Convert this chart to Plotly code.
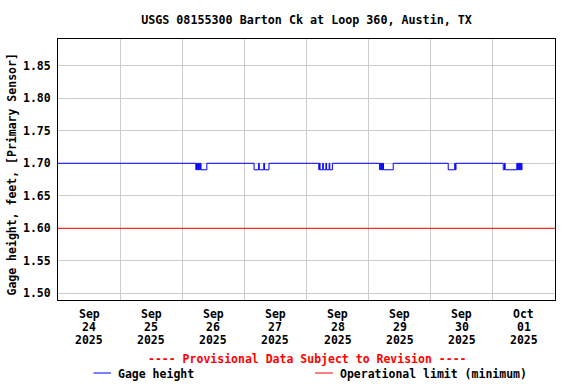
import plotly.graph_objects as go

title_text = "USGS 08155300 Barton Ck at Loop 360, Austin, TX"
y_title = "Gage height, feet, [Primary Sensor]"
provisional_text = "---- Provisional Data Subject to Revision ----"
legend_names = ["Gage height", "Operational limit (minimum)"]

# x tick labels (centred at noon of each day)
tick_days = ["2025-09-24", "2025-09-25", "2025-09-26", "2025-09-27",
             "2025-09-28", "2025-09-29", "2025-09-30", "2025-10-01"]
tick_months = ["Sep", "Sep", "Sep", "Sep", "Sep", "Sep", "Sep", "Oct"]
tick_daynums = ["24", "25", "26", "27", "28", "29", "30", "01"]
tick_years = ["2025"] * 8

# Gage height step changes (15-minute data, value changes only)
gage_times = [
    "2025-09-24 00:00",
    "2025-09-26 05:15", "2025-09-26 05:30", "2025-09-26 05:45", "2025-09-26 06:00",
    "2025-09-26 06:15", "2025-09-26 06:30", "2025-09-26 06:45", "2025-09-26 07:00",
    "2025-09-26 07:15", "2025-09-26 09:30",
    "2025-09-27 03:45", "2025-09-27 05:30", "2025-09-27 05:45", "2025-09-27 07:30",
    "2025-09-27 07:45", "2025-09-27 09:30",
    "2025-09-28 04:45", "2025-09-28 05:00", "2025-09-28 05:15", "2025-09-28 06:15",
    "2025-09-28 06:30", "2025-09-28 07:30", "2025-09-28 07:45", "2025-09-28 08:45",
    "2025-09-28 09:00", "2025-09-28 10:00",
    "2025-09-29 04:15", "2025-09-29 04:30", "2025-09-29 04:45", "2025-09-29 05:00",
    "2025-09-29 05:15", "2025-09-29 05:30", "2025-09-29 05:45", "2025-09-29 09:30",
    "2025-09-30 06:45", "2025-09-30 09:15", "2025-09-30 09:30", "2025-09-30 09:45",
    "2025-10-01 04:00", "2025-10-01 04:30", "2025-10-01 04:45", "2025-10-01 09:15",
    "2025-10-01 09:30", "2025-10-01 09:45", "2025-10-01 10:00", "2025-10-01 10:15",
    "2025-10-01 10:30", "2025-10-01 10:45", "2025-10-01 11:00", "2025-10-01 11:15",
]
gage_values = [
    1.70,
    1.69, 1.70, 1.69, 1.70,
    1.69, 1.70, 1.69, 1.70,
    1.69, 1.70,
    1.69, 1.70, 1.69, 1.70,
    1.69, 1.70,
    1.69, 1.70, 1.69, 1.70,
    1.69, 1.70, 1.69, 1.70,
    1.69, 1.70,
    1.69, 1.70, 1.69, 1.70,
    1.69, 1.70, 1.69, 1.70,
    1.69, 1.70, 1.69, 1.70,
    1.69, 1.70, 1.69, 1.70,
    1.69, 1.70, 1.69, 1.70,
    1.69, 1.70, 1.69, 1.70,
]
op_limit_min = 1.60
x_range = ["2025-09-24 00:00", "2025-10-02 00:00"]
y_range = [1.4897, 1.8912]

FONT = "DejaVu Sans Mono"
BLUE = "#0000ff"
RED = "#ff0000"
FS = 11.5

fig = go.Figure()
fig.add_trace(go.Scatter(
    x=gage_times, y=gage_values, mode="lines", line_shape="hv",
    line=dict(color=BLUE, width=1), name=legend_names[0], showlegend=False,
))
fig.add_trace(go.Scatter(
    x=x_range, y=[op_limit_min, op_limit_min], mode="lines",
    line=dict(color=RED, width=1), name=legend_names[1], showlegend=False,
))

fig.update_layout(
    width=576, height=384,
    margin=dict(l=58, r=21, t=39, b=84),
    paper_bgcolor="white", plot_bgcolor="white",
    font=dict(family=FONT, size=FS, color="black", weight="bold"),
    title=dict(text=title_text, x=0.5, xref="paper", y=1 - 20 / 384, yref="container",
               yanchor="middle", xanchor="center",
               font=dict(family=FONT, size=11.7, color="black", weight="bold")),
    showlegend=False,
)
fig.update_xaxes(
    type="date", range=x_range, dtick=86400000, tick0="2025-09-24",
    showticklabels=False,
    showgrid=True, gridcolor="#cccccc", gridwidth=1,
    showline=True, linecolor="black", linewidth=1, mirror=True,
    ticks="", zeroline=False,
)
fig.update_yaxes(
    range=y_range, tick0=1.5, dtick=0.05, tickformat=".2f",
    showgrid=True, gridcolor="#cccccc", gridwidth=1,
    showline=True, linecolor="black", linewidth=1, mirror=True,
    ticks="", zeroline=False, ticklabelstandoff=4,
    tickfont=dict(family=FONT, size=FS, color="black", weight="bold"),
)

W = 497.0
H = 261.0
def px(x):
    return (x - 58) / W
def py(y):
    return (300 - y) / H

def txt(text, x, y, color="black", xanchor="center", xref="paper", angle=0):
    return dict(text=text, xref=xref, yref="paper", x=x, y=y, textangle=angle,
                showarrow=False, xanchor=xanchor, yanchor="middle",
                font=dict(family=FONT, size=FS, color=color, weight="bold"))

annotations = [
    txt(y_title, px(11.5), py(175), angle=-90),
    txt(provisional_text, px(307), py(359), color=RED),
    txt(legend_names[0], px(116), py(373.5), xanchor="left"),
    txt(legend_names[1], px(337.5), py(373.5), xanchor="left"),
]
for d, m, dn, yr in zip(tick_days, tick_months, tick_daynums, tick_years):
    noon = d + " 12:00"
    annotations.append(txt(m, noon, py(314), xref="x"))
    annotations.append(txt(dn, noon, py(327), xref="x"))
    annotations.append(txt(yr, noon, py(340), xref="x"))
fig.update_layout(annotations=annotations)
fig.add_shape(type="line", xref="paper", yref="paper", x0=px(93.5), x1=px(111), y0=py(373), y1=py(373),
              line=dict(color=BLUE, width=1))
fig.add_shape(type="line", xref="paper", yref="paper", x0=px(315), x1=px(333), y0=py(373), y1=py(373),
              line=dict(color=RED, width=1))

fig.write_html("out.html", config={"displayModeBar": False},
               post_script="document.body.style.margin='0';")
